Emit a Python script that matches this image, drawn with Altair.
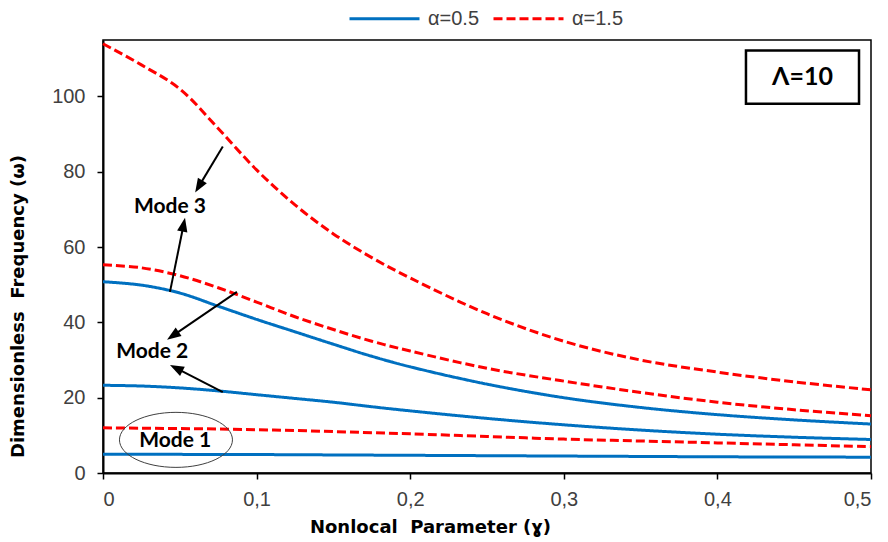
import math
import altair as alt
import pandas as pd

# ---------------- data ----------------
gamma = [0, 0.025, 0.05, 0.075, 0.1, 0.125, 0.15, 0.175, 0.2, 0.25, 0.3, 0.35, 0.4, 0.45, 0.5]

a05_mode1 = [5.0, 5.0, 4.95, 4.9, 4.9, 4.85, 4.8, 4.75, 4.7, 4.6, 4.5, 4.4, 4.3, 4.25, 4.2]
a05_mode2 = [23.3, 23.1, 22.6, 21.8, 20.8, 19.8, 18.8, 17.6, 16.5, 14.5, 12.8, 11.4, 10.3, 9.5, 8.9]
a05_mode3 = [50.8, 49.9, 47.8, 44.3, 40.8, 37.5, 34.2, 31.0, 28.2, 23.6, 20.0, 17.4, 15.5, 14.1, 13.0]
a15_mode1 = [12.0, 11.9, 11.8, 11.7, 11.5, 11.3, 11.0, 10.7, 10.4, 9.7, 9.0, 8.5, 8.0, 7.5, 7.0]
a15_mode2 = [55.3, 54.5, 52.4, 49.2, 45.4, 41.5, 38.1, 35.0, 32.4, 27.8, 24.4, 21.4, 18.8, 16.8, 15.2]
a15_mode3 = [114.0, 108.4, 102.0, 91.5, 80.5, 71.2, 63.5, 57.2, 51.8, 42.3, 35.0, 30.0, 26.8, 24.2, 22.1]

series_names = ["α=0.5", "α=1.5"]
x_ticks = [0, 0.1, 0.2, 0.3, 0.4, 0.5]
y_ticks = [0, 20, 40, 60, 80, 100]

# annotations (data coordinates)
label_text = ["Mode 3", "Mode 2", "Mode 1"]
label_x = [0.0436, 0.032, 0.047]
label_y = [70.7, 32.2, 8.6]

arrow_x0 = [0.078, 0.0436, 0.0872, 0.078]
arrow_y0 = [86.7, 48.1, 48.1, 21.5]
arrow_x1 = [0.060, 0.0534, 0.0417, 0.0436]
arrow_y1 = [74.5, 67.8, 35.4, 28.7]

ellipse_x = [0.0475]
ellipse_y = [8.8]

box_x = [0.4186]
box_x2 = [0.4922]
box_y = [98.1]
box_y2 = [112.2]
box_text = ["Λ=10"]

# ---------------- layout ----------------
W, H = 768, 433
XMAX, YMAX = 0.5, 115
BLUE, RED = "#0070C0", "#FF0000"
FONT = "Liberation Sans"
TITLE_FONT = "DejaVu Sans"
ANNOT_FONT = "Lato"

rows = []
for vals, alpha, mode in [
    (a05_mode1, series_names[0], "1"), (a05_mode2, series_names[0], "2"), (a05_mode3, series_names[0], "3"),
    (a15_mode1, series_names[1], "1"), (a15_mode2, series_names[1], "2"), (a15_mode3, series_names[1], "3"),
]:
    for g, v in zip(gamma, vals):
        rows.append({"gamma": g, "omega": v, "alpha": alpha, "mode": alpha + mode})
df = pd.DataFrame(rows)

xscale = alt.Scale(domain=[0, XMAX], nice=False, zero=False)
yscale = alt.Scale(domain=[0, YMAX], nice=False)

x_axis = alt.Axis(
    values=x_ticks,
    labelExpr="datum.value == 0 ? '0' : replace(format(datum.value, '.1f'), '.', ',')",
    title="Nonlocal\u00a0 Parameter (ɣ)",
    titlePadding=9, titleFontSize=18, titleX=327,
    labelPadding=10,
)
y_axis = alt.Axis(
    values=y_ticks, title="Dimensionless\u00a0 Frequency (ω)",
    titlePadding=24, titleFontSize=18, titleY=266,
    labelPadding=12,
)


def X(field):
    return alt.X(field, scale=xscale, axis=x_axis)


def Y(field):
    return alt.Y(field, scale=yscale, axis=y_axis)


legend = alt.Legend(
    orient="none", legendX=245, legendY=-58, direction="horizontal", title=None,
    symbolType="stroke", symbolSize=4900, symbolStrokeWidth=3,
    labelFont=FONT, labelFontSize=20, labelColor="#404040", labelOffset=7,
    columnPadding=7,
)

lines = alt.Chart(df).mark_line(strokeWidth=3, interpolate="catmull-rom").encode(
    x=X("gamma:Q"),
    y=Y("omega:Q"),
    color=alt.Color("alpha:N", scale=alt.Scale(domain=series_names, range=[BLUE, RED]), legend=legend),
    strokeDash=alt.StrokeDash("alpha:N", scale=alt.Scale(domain=series_names, range=[[1, 0], [9, 4]]), legend=legend),
    detail="mode:N",
)

# arrows
px_x = W / XMAX
px_y = H / YMAX
heads = []
for x0, y0, x1, y1 in zip(arrow_x0, arrow_y0, arrow_x1, arrow_y1):
    dxp = (x1 - x0) * px_x
    dyp = -(y1 - y0) * px_y
    L = math.hypot(dxp, dyp)
    ux, uy = dxp / L, dyp / L
    cx = x1 - ux * 8 / px_x
    cy = y1 + uy * 8 / px_y
    ang = math.degrees(math.atan2(ux, -uy)) % 360
    heads.append({"x0": x0, "y0": y0, "hx": cx, "hy": cy, "ang": ang})
adf = pd.DataFrame(heads)

shafts = alt.Chart(adf).mark_rule(color="black", strokeWidth=2).encode(
    x=X("x0:Q"), y=Y("y0:Q"), x2="hx:Q", y2="hy:Q",
)
arrowheads = alt.Chart(adf).mark_point(
    shape="M0,-1 L0.65,0.75 L-0.65,0.75 Z", filled=True, color="black", opacity=1, size=256, strokeWidth=0
).encode(
    x=X("hx:Q"), y=Y("hy:Q"), angle=alt.Angle("ang:Q", scale=None),
)

labels = alt.Chart(pd.DataFrame({"x": label_x, "y": label_y, "t": label_text})).mark_text(
    font=ANNOT_FONT, fontSize=21, fontWeight="bold", color="black", align="center", baseline="middle"
).encode(x=X("x:Q"), y=Y("y:Q"), text="t:N")

ellipse = alt.Chart(pd.DataFrame({"x": ellipse_x, "y": ellipse_y})).mark_point(
    shape="M-1,0 A1,0.487 0 1,1 1,0 A1,0.487 0 1,1 -1,0 Z",
    size=113 * 113, filled=False, color="#404040", strokeWidth=1, opacity=1,
).encode(x=X("x:Q"), y=Y("y:Q"))

box = alt.Chart(pd.DataFrame({"x": box_x, "x2": box_x2, "y": box_y, "y2": box_y2})).mark_rect(
    fill="white", stroke="black", strokeWidth=2.5
).encode(x=X("x:Q"), x2="x2:Q", y=Y("y:Q"), y2="y2:Q")

box_label = alt.Chart(pd.DataFrame({
    "x": [(box_x[0] + box_x2[0]) / 2], "y": [(box_y[0] + box_y2[0]) / 2], "t": box_text
})).mark_text(font=ANNOT_FONT, fontSize=25, fontWeight="bold", color="black", align="center", baseline="middle").encode(
    x=X("x:Q"), y=Y("y:Q"), text="t:N",
)

chart = alt.layer(lines, ellipse, shafts, arrowheads, labels, box, box_label).properties(
    width=W, height=H,
    padding={"left": 95, "top": 32, "right": 9, "bottom": 64},
    autosize=alt.AutoSizeParams(type="none"),
).configure_view(
    stroke="black", strokeWidth=1.5
).configure_axis(
    grid=False,
    domainColor="black", domainWidth=2,
    tickColor="black", tickSize=6, tickWidth=1.5,
    labelFont=FONT, labelFontSize=20, labelColor="#404040",
    titleFont=TITLE_FONT, titleFontWeight="bold", titleColor="black",
)

chart.save("out.html", embed_options={"renderer": "svg", "actions": False})
